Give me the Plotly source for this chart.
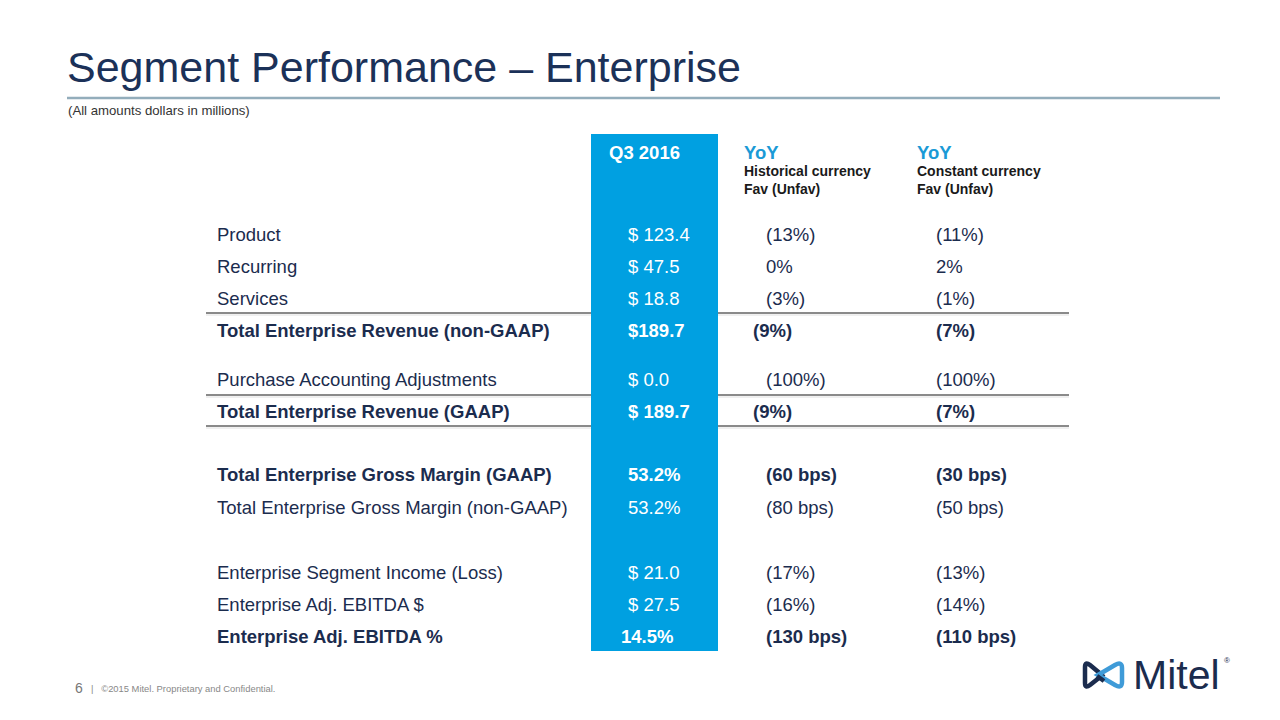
import plotly.graph_objects as go

# ---- data ----
row_labels = [
    "Product", "Recurring", "Services", "Total Enterprise Revenue (non-GAAP)",
    "Purchase Accounting Adjustments", "Total Enterprise Revenue (GAAP)",
    "Total Enterprise Gross Margin (GAAP)", "Total Enterprise Gross Margin (non-GAAP)",
    "Enterprise Segment Income (Loss)", "Enterprise Adj. EBITDA $", "Enterprise Adj. EBITDA %",
]
q3_2016 = ["$ 123.4", "$ 47.5", "$ 18.8", "$189.7", "$ 0.0", "$ 189.7",
           "53.2%", "53.2%", "$ 21.0", "$ 27.5", "14.5%"]
yoy_historical = ["(13%)", "0%", "(3%)", "(9%)", "(100%)", "(9%)",
                  "(60 bps)", "(80 bps)", "(17%)", "(16%)", "(130 bps)"]
yoy_constant = ["(11%)", "2%", "(1%)", "(7%)", "(100%)", "(7%)",
                "(30 bps)", "(50 bps)", "(13%)", "(14%)", "(110 bps)"]
col_headers = ["Q3 2016", "YoY", "YoY"]
col_subheaders = [["Historical currency", "Fav (Unfav)"], ["Constant currency", "Fav (Unfav)"]]

# ---- layout / style (not data) ----
bold_rows = {3, 5, 6, 10}
row_y = [234, 266, 298, 330, 379, 411, 474, 507, 572, 604, 636]
rule_y = [313, 395, 426]
x_label, x_q3, x_hist, x_const = 216, 627, 765, 935
x_hist_bold = 752
FONT = "Liberation Sans, Arial, sans-serif"
NAVY = "#1b2c4e"
BLUE = "#00a0e1"
ROW_SIZE = 18.5

# The page body has an 8px margin: size the figure to fit and offset the ranges
# so that axis units equal page pixels.
fig = go.Figure()
fig.update_xaxes(range=[8, 1272], visible=False, fixedrange=True)
fig.update_yaxes(range=[712, 8], visible=False, fixedrange=True)

shapes = []
ann = []

# title rule
shapes.append(dict(type="line", x0=67, x1=1220, y0=98, y1=98, line=dict(color="#93adbb", width=2.5)))
# table rules
for ry in rule_y:
    shapes.append(dict(type="line", x0=206, x1=1069, y0=ry, y1=ry, line=dict(color="#8a8a8a", width=2)))
    shapes.append(dict(type="line", x0=206, x1=1069, y0=ry + 2, y1=ry + 2, line=dict(color="#e0e0e0", width=1)))
# blue column
shapes.append(dict(type="rect", x0=591, x1=718, y0=134, y1=651, fillcolor=BLUE, line=dict(width=0), layer="above"))


def text(x, y, s, size, color, bold=False, anchor="left"):
    ann.append(dict(x=x, y=y, xref="x", yref="y", text=("<b>%s</b>" % s) if bold else s,
                    showarrow=False, xanchor=anchor, yanchor="middle", borderpad=0,
                    font=dict(family=FONT, size=size, color=color)))


# title & subtitle
text(66, 67, "Segment Performance – Enterprise", 43, "#1b3158")
text(67, 110, "(All amounts dollars in millions)", 13.2, "#333333")

# headers
text(608, 152, col_headers[0], 18.5, "white", bold=True)
for hx, head, subs in zip([743, 916], col_headers[1:], col_subheaders):
    text(hx, 152, head, 18.5, "#1a9ad6", bold=True)
    text(hx, 171, subs[0], 14, "#1a1a1a", bold=True)
    text(hx, 189, subs[1], 14, "#1a1a1a", bold=True)

# rows
for i, (lab, q, h, c) in enumerate(zip(row_labels, q3_2016, yoy_historical, yoy_constant)):
    b = i in bold_rows
    y = row_y[i]
    text(x_label, y, lab, ROW_SIZE, NAVY, bold=b)
    text(x_q3 if i != 10 else 620, y, q, ROW_SIZE, "white", bold=b)
    text(x_hist_bold if (b and "bps" not in h) else x_hist, y, h, ROW_SIZE, NAVY, bold=b)
    text(x_const, y, c, ROW_SIZE, NAVY, bold=b)

# footer
text(74, 688, "6", 14, "#777777")
text(90, 688, "|   ©2015 Mitel. Proprietary and Confidential.", 9.4, "#888888")

# Mitel logo
shapes.append(dict(type="path",
                   path="M 1102 675 L 1090 665 Q 1085 661 1085 667 L 1085 683 Q 1085 689 1090 685 L 1104 674",
                   line=dict(color="#1b2c4e", width=4.5)))
shapes.append(dict(type="path",
                   path="M 1098 675 L 1115 665 Q 1122 661 1122 668 L 1122 682 Q 1122 689 1115 685 Z",
                   line=dict(color="#3f9bd8", width=4.5)))
shapes.append(dict(type="path",
                   path="M 1097 676 L 1104 681",
                   line=dict(color="#1b2c4e", width=4.5)))
text(1132, 675, "Mitel", 41, "#1b2c4e")
text(1223, 660, "®", 8, "#1b2c4e")

fig.update_layout(width=1264, height=704, margin=dict(l=0, r=0, t=0, b=0),
                  plot_bgcolor="white", paper_bgcolor="white",
                  shapes=shapes, annotations=ann, showlegend=False)
fig.write_html("out.html")
